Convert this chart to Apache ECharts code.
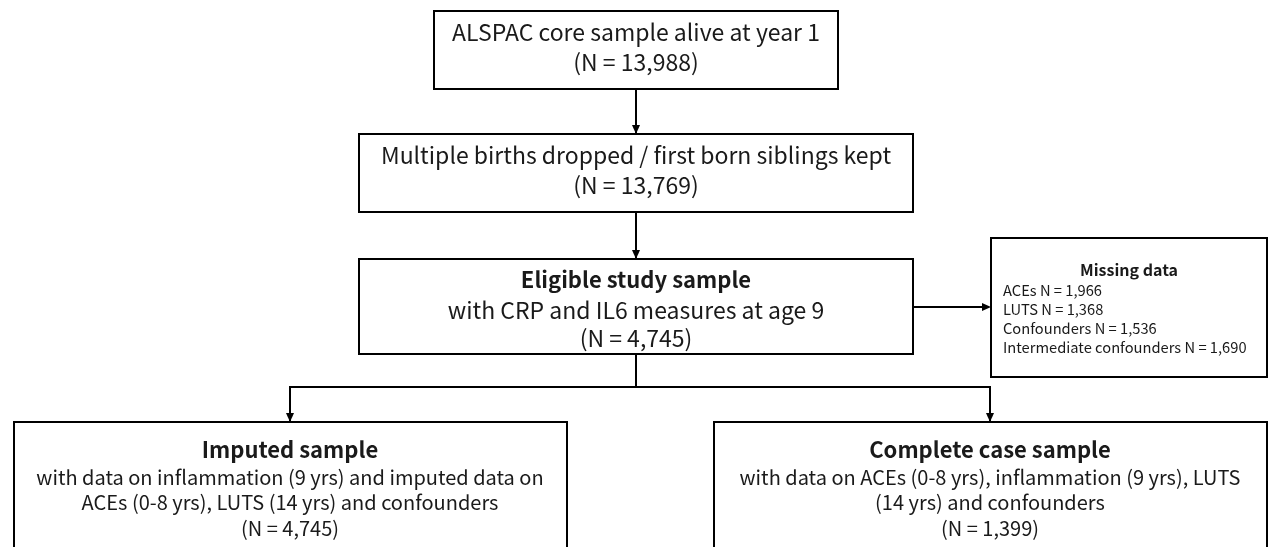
<!DOCTYPE html>
<html>
<head>
<meta charset="utf-8">
<script src="https://cdn.jsdelivr.net/npm/echarts@6/dist/echarts.min.js"></script>
<style>
html, body { margin: 0; padding: 0; background: #fff; }
#flow { width: 1268px; height: 547px; }
</style>
</head>
<body>
<div id="flow"></div>
<script>
var stepTitles = ['ALSPAC core sample alive at year 1', 'Multiple births dropped / first born siblings kept', 'Eligible study sample'];
var stepNotes = ['', '', 'with CRP and IL6 measures at age 9'];
var stepCounts = [13988, 13769, 4745];
var missingLabels = ['ACEs', 'LUTS', 'Confounders', 'Intermediate confounders'];
var missingCounts = [1966, 1368, 1536, 1690];
var sampleTitles = ['Imputed sample', 'Complete case sample'];
var sampleNotes = [
	['with data on inflammation (9 yrs) and imputed data on', 'ACEs (0-8 yrs), LUTS (14 yrs) and confounders'],
	['with data on ACEs (0-8 yrs), inflammation (9 yrs), LUTS', '(14 yrs) and confounders']
];
var sampleCounts = [4745, 1399];

var FONT = '"Noto Sans CJK SC", "Noto Sans", sans-serif';

function fmt(n) {
	return n.toLocaleString('en-US');
}

function box(x, y, w, h) {
	return {
		type: 'rect',
		shape: { x: x, y: y, width: w, height: h },
		style: { fill: '#fff', stroke: '#000', lineWidth: 2 }
	};
}

function txt(x, y, s, size, bold, align) {
	return {
		type: 'text',
		x: x,
		y: y,
		style: {
			text: s,
			fill: '#1a1a1a',
			fontFamily: FONT,
			fontSize: size,
			fontWeight: bold ? 'bold' : 'normal',
			align: align || 'center',
			verticalAlign: 'middle'
		},
		z: 10
	};
}

function seg(points) {
	return {
		type: 'polyline',
		shape: { points: points },
		style: { stroke: '#000', lineWidth: 2, fill: null }
	};
}

// arrow head, dir: 'down' or 'right'
function head(x, y, dir) {
	var pts = dir === 'down'
		? [[x - 4, y - 9], [x + 4, y - 9], [x, y]]
		: [[x - 9, y - 4], [x - 9, y + 4], [x, y]];
	return {
		type: 'polygon',
		shape: { points: pts },
		style: { fill: '#000' },
		z: 5
	};
}

var els = [];

// main column
var cx = 636;
var stepBoxes = [
	{ x: 434, y: 11, w: 404, h: 78 },
	{ x: 359, y: 134, w: 554, h: 78 },
	{ x: 359, y: 259, w: 554, h: 95 }
];
stepBoxes.forEach(function(b, i) {
	els.push(box(b.x, b.y, b.w, b.h));
	if (i < 2) {
		els.push(txt(cx, b.y + 21, stepTitles[i], 23, false));
		els.push(txt(cx, b.y + 51, '(N = ' + fmt(stepCounts[i]) + ')', 23, false));
	} else {
		els.push(txt(cx, b.y + 21, stepTitles[i], 22, true));
		els.push(txt(cx, b.y + 51, stepNotes[i], 23, false));
		els.push(txt(cx, b.y + 79, '(N = ' + fmt(stepCounts[i]) + ')', 23, false));
	}
});

// vertical arrows between steps
els.push(seg([[cx, 89], [cx, 133]]));
els.push(head(cx, 134, 'down'));
els.push(seg([[cx, 212], [cx, 258]]));
els.push(head(cx, 259, 'down'));

// missing data box
var mb = { x: 991, y: 238, w: 276, h: 139 };
els.push(box(mb.x, mb.y, mb.w, mb.h));
els.push(txt(mb.x + mb.w / 2, 270, 'Missing data', 16, true));
missingLabels.forEach(function(l, i) {
	els.push(txt(1003, 290 + i * 19, l + ' N = ' + fmt(missingCounts[i]), 14.7, false, 'left'));
});
els.push(seg([[913, 307], [989, 307]]));
els.push(head(991, 307, 'right'));

// branch to the two samples
var branchX = [290, 990];
els.push(seg([[cx, 354], [cx, 387]]));
els.push(seg([[branchX[0], 421], [branchX[0], 387], [branchX[1], 387], [branchX[1], 421]]));
branchX.forEach(function(bx, i) {
	els.push(head(bx, 422, 'down'));
	els.push(box(bx - 276, 422, 553, 160));
	els.push(txt(bx, 450, sampleTitles[i], 22, true));
	els.push(txt(bx, 477, sampleNotes[i][0], 20, false));
	els.push(txt(bx, 502, sampleNotes[i][1], 20, false));
	els.push(txt(bx, 528, '(N = ' + fmt(sampleCounts[i]) + ')', 20, false));
});

var flow = echarts.init(document.getElementById('flow'));
var opt = {
	backgroundColor: '#fff',
	animation: false,
	graphic: { elements: els }
};
flow.setOption(opt);
</script>
</body>
</html>
